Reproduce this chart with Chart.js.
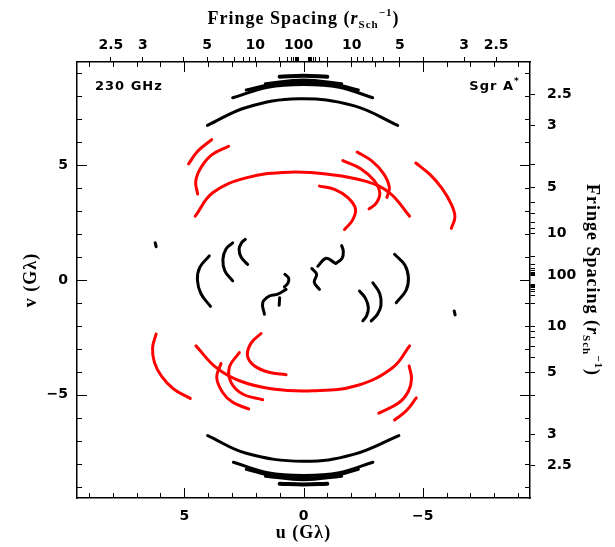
<!DOCTYPE html>
<html>
<head>
<meta charset="utf-8">
<title>Sgr A* 230 GHz uv coverage</title>
<script src="https://cdn.jsdelivr.net/npm/chart.js@4.4.1/dist/chart.umd.min.js"></script>
<style>
  html, body { margin: 0; padding: 0; background: #fff; }
  #wrap { width: 615px; height: 547px; position: relative; }
</style>
</head>
<body>
<div id="wrap"><canvas id="uv"></canvas></div>
<script>
// uv tracks, [u, v] in G-lambda
const blackTop1 = [[4.03, 6.74], [2.4, 7.52], [0.2, 7.9], [-2.1, 7.6], [-3.95, 6.74]];
const blackTop2 = [[2.97, 7.94], [1.5, 8.4], [0, 8.52], [-1.5, 8.4], [-2.9, 7.94]];
const blackTop3 = [[2.4, 8.28], [1.2, 8.55], [0, 8.62], [-1.2, 8.55], [-2.3, 8.28]];
const blackTop4 = [[1.6, 8.55], [0, 8.72], [-1.6, 8.55]];
const blackTop5 = [[1.0, 8.86], [0, 8.9], [-1.0, 8.86]];

const blackBot1 = [[4.02, -6.78], [2.4, -7.55], [0.03, -7.9], [-2.1, -7.6], [-4.0, -6.78]];
const blackBot2 = [[2.94, -7.94], [1.5, -8.4], [0, -8.52], [-1.5, -8.4], [-2.91, -7.94]];
const blackBot3 = [[2.4, -8.25], [1.2, -8.55], [0, -8.62], [-1.2, -8.55], [-2.3, -8.25]];
const blackBot4 = [[1.6, -8.55], [0, -8.7], [-1.6, -8.55]];
const blackBot5 = [[1.0, -8.88], [0, -8.91], [-1.0, -8.88]];

const blackMid1 = [[3.9, -1.15], [4.3, -0.6], [4.45, 0.0], [4.35, 0.55], [3.95, 1.05]];
const blackMid2 = [[2.97, -0.04], [3.3, 0.4], [3.38, 0.9], [3.25, 1.35], [2.97, 1.62]];
const blackMid3 = [[2.34, 0.68], [2.62, 1.0], [2.7, 1.35], [2.6, 1.62], [2.44, 1.77]];
const blackMid4 = [[-3.82, 1.12], [-4.25, 0.65], [-4.4, 0.1], [-4.3, -0.45], [-3.89, -0.99]];
const blackMid5 = [[-2.91, -0.12], [-3.2, -0.6], [-3.25, -1.1], [-3.1, -1.5], [-2.84, -1.78]];
const blackMid6 = [[-2.35, -0.48], [-2.6, -0.8], [-2.72, -1.2], [-2.65, -1.55], [-2.49, -1.78]];

const blackSq1 = [[1.64, -1.49], [1.71, -0.99], [1.43, -0.7], [1.08, -0.62], [0.73, -0.41]];
const blackSq2 = [[0.78, 0.25], [0.62, 0.08], [0.66, -0.15], [0.8, -0.3]];
const blackSq3 = [[1.0, -0.77], [1.02, -1.1]];
const blackSq4 = [[-0.67, -0.41], [-0.45, -0.1], [-0.55, 0.25], [-0.35, 0.5]];
const blackSq5 = [[-0.6, 0.6], [-0.95, 0.95], [-1.3, 0.75]];
const blackSq6 = [[-1.35, 0.72], [-1.62, 0.95], [-1.67, 1.25], [-1.6, 1.5]];

const blackDot1 = [[6.22, 1.62], [6.18, 1.45]];
const blackDot2 = [[-6.32, -1.35], [-6.36, -1.52]];

const redUp1 = [[4.82, 5.06], [4.44, 5.61], [3.85, 6.12]];
const redUp2 = [[4.44, 3.75], [4.52, 4.3], [4.3, 4.9], [3.85, 5.45], [3.14, 5.83]];
const redUp3 = [[4.54, 2.78], [3.81, 3.8], [2.41, 4.45], [0.59, 4.7], [-1.09, 4.6], [-2.63, 4.3], [-3.61, 3.8], [-4.45, 2.78]];
const redUp4 = [[-0.67, 4.09], [-1.3, 3.95], [-1.85, 3.6], [-2.18, 3.1], [-2.05, 2.6], [-1.72, 2.2]];
const redUp5 = [[-1.65, 5.2], [-2.4, 4.85], [-2.95, 4.35], [-3.2, 3.8], [-3.05, 3.35], [-2.75, 3.1]];
const redUp6 = [[-2.25, 5.58], [-2.85, 5.2], [-3.35, 4.65], [-3.6, 4.05], [-3.5, 3.6]];
const redUp7 = [[-4.71, 5.1], [-5.3, 4.6], [-5.8, 4.0], [-6.2, 3.3], [-6.35, 2.75], [-6.2, 2.25]];

const redLo1 = [[6.18, -2.35], [6.33, -2.95], [6.25, -3.6], [5.95, -4.2], [5.45, -4.75], [4.75, -5.16]];
const redLo2 = [[4.51, -2.87], [3.67, -3.81], [2.69, -4.39], [1.29, -4.75], [-0.39, -4.83], [-2.21, -4.61], [-3.75, -3.81], [-4.45, -2.87]];
const redLo3 = [[3.46, -3.64], [3.64, -4.25], [3.39, -4.9], [2.97, -5.33], [2.3, -5.62]];
const redLo4 = [[2.69, -3.16], [3.11, -3.81], [3.04, -4.46], [2.55, -4.97], [1.71, -5.22]];
const redLo5 = [[1.78, -2.33], [2.2, -2.75], [2.35, -3.3], [2.05, -3.75], [1.45, -4.02], [0.73, -4.13]];
const redLo6 = [[-4.43, -3.75], [-4.53, -4.3], [-4.4, -4.85], [-4.0, -5.35], [-3.16, -5.8]];
const redLo7 = [[-4.73, -5.14], [-4.31, -5.7], [-3.82, -6.1]];

const blackArcs = [
  blackTop1, blackTop2, blackTop3, blackTop4, blackBot1, blackBot2, blackBot3, blackBot4,
  blackMid1, blackMid2, blackMid3, blackMid4, blackMid5, blackMid6,
  blackSq1, blackSq2, blackSq3, blackSq4, blackSq5, blackSq6, blackDot1, blackDot2,
];
const blackBars = [blackTop5, blackBot5];
const redArcs = [redUp1, redUp2, redUp3, redUp4, redUp5, redUp6, redUp7,
  redLo1, redLo2, redLo3, redLo4, redLo5, redLo6, redLo7];

// axis ticks
const uTicks = [5, 0, -5];
const vTicks = [5, 0, -5];
const fringeTicks = [2.5, 3, 4, 5, 6, 7, 8, 9, 10, 20, 30, 40, 50, 60, 70, 80, 90, 100];
const fringeLabels = [2.5, 3, 5, 10, 100];
const FRINGE_K = 20.2; // fringe spacing in r_Sch = FRINGE_K / baseline (G-lambda)

const tickFont = { family: "'DejaVu Sans', sans-serif", size: 14, weight: "bold" };
const titleFont = "bold 18px 'Liberation Serif', serif";

function fmtSigned(v) {
  return v < 0 ? "\u2212" + Math.abs(v) : String(v);
}

function fringeTickObjs() {
  const out = [];
  fringeTicks.forEach((f) => {
    [1, -1].forEach((sign) => {
      const show = fringeLabels.includes(f) && !(f === 100 && sign < 0);
      out.push({ value: (sign * FRINGE_K) / f, text: show ? String(f) : "" });
    });
  });
  return out;
}

function arcSet(pts, color, width) {
  return {
    data: pts.map(([x, y]) => ({ x, y })),
    showLine: true,
    borderColor: color,
    borderWidth: width,
    borderCapStyle: "round",
    pointRadius: 0,
    tension: 0.4,
    fill: false,
  };
}

function richText(ctx, parts, cx, cy, angle) {
  ctx.save();
  ctx.translate(cx, cy);
  ctx.rotate(angle);
  ctx.letterSpacing = "1px";
  let w = 0;
  parts.forEach((p) => { ctx.font = p.font; w += ctx.measureText(p.text).width; });
  let x = -w / 2;
  ctx.textAlign = "left";
  ctx.textBaseline = "alphabetic";
  parts.forEach((p) => {
    ctx.font = p.font;
    ctx.fillText(p.text, x, p.dy || 0);
    x += ctx.measureText(p.text).width;
  });
  ctx.restore();
}

const fringeTitle = [
  { text: "Fringe Spacing (", font: titleFont },
  { text: "r", font: "bold italic 18px 'Liberation Serif', serif" },
  { text: "Sch", font: "bold 11px 'Liberation Serif', serif", dy: 4 },
  { text: "\u22121", font: "bold 11px 'Liberation Serif', serif", dy: -8 },
  { text: ")", font: titleFont },
];

const framePlugin = {
  id: "frame",
  afterDraw(chart) {
    const { ctx, chartArea: a, scales } = chart;
    const xs = scales.x;
    const ys = scales.y;
    ctx.save();
    ctx.strokeStyle = "#000";
    ctx.lineWidth = 1;
    ctx.beginPath();
    for (let k = -9; k <= 9; k++) {
      const len = k % 5 === 0 ? 10 : 5;
      const px = Math.round(xs.getPixelForValue(k)) + 0.5;
      ctx.moveTo(px, a.bottom);
      ctx.lineTo(px, a.bottom - len);
      ctx.moveTo(px, a.top);
      ctx.lineTo(px, a.top + len);
      const py = Math.round(ys.getPixelForValue(k)) + 0.5;
      ctx.moveTo(a.left, py);
      ctx.lineTo(a.left + len, py);
      ctx.moveTo(a.right, py);
      ctx.lineTo(a.right - len, py);
    }
    ctx.stroke();

    ctx.fillStyle = "#000";
    const cx = (a.left + a.right) / 2;
    const cy = (a.top + a.bottom) / 2;
    richText(ctx, fringeTitle, cx, 24, 0);
    richText(ctx, fringeTitle, 587, cy, Math.PI / 2);
    const uvTitle = (name) => [{ text: name + " (G\u03bb)", font: titleFont }];
    richText(ctx, uvTitle("u"), cx, 538, 0);
    richText(ctx, uvTitle("v"), 36, cy, -Math.PI / 2);

    ctx.font = "bold 13px 'DejaVu Sans', sans-serif";
    ctx.letterSpacing = "1px";
    ctx.textBaseline = "alphabetic";
    ctx.textAlign = "left";
    ctx.fillText("230 GHz", a.left + 18, a.top + 28);
    ctx.textAlign = "right";
    ctx.fillText("Sgr A", a.right - 16, a.top + 28);
    ctx.font = "bold 9px 'DejaVu Sans', sans-serif";
    ctx.textAlign = "left";
    ctx.fillText("*", a.right - 16, a.top + 22);
    ctx.restore();
  },
};

const borderOpts = { display: true, color: "#000", width: 1.5 };

new Chart(document.getElementById("uv"), {
  type: "scatter",
  data: {
    datasets: [
      ...redArcs.map((pts) => arcSet(pts, "#ff0000", 3)),
      ...blackArcs.map((pts) => arcSet(pts, "#000000", 3)),
      ...blackBars.map((pts) => arcSet(pts, "#000000", 4)),
    ],
  },
  options: {
    responsive: true,
    maintainAspectRatio: false,
    animation: false,
    events: [],
    layout: { padding: 0 },
    plugins: { legend: { display: false }, tooltip: { enabled: false } },
    scales: {
      x: {
        type: "linear",
        position: "bottom",
        reverse: true,
        min: -9.5,
        max: 9.5,
        afterBuildTicks: (s) => { s.ticks = uTicks.map((v) => ({ value: v })); },
        afterFit: (s) => { s.height = 49; },
        grid: { display: false, drawTicks: false },
        border: borderOpts,
        ticks: { color: "#000", font: tickFont, padding: 10, autoSkip: false, maxRotation: 0, callback: (v) => fmtSigned(v) },
      },
      x2: {
        type: "linear",
        axis: "x",
        position: "top",
        reverse: true,
        min: -9.5,
        max: 9.5,
        afterBuildTicks: (s) => { s.ticks = fringeTickObjs(); },
        afterFit: (s) => { s.height = 62; },
        grid: { display: true, drawOnChartArea: false, drawTicks: true, tickLength: 5, color: "#000", lineWidth: 1 },
        border: borderOpts,
        ticks: { color: "#000", font: tickFont, padding: 3, autoSkip: false, maxRotation: 0, callback: (v, i, t) => t[i].text },
      },
      y: {
        type: "linear",
        position: "left",
        min: -9.5,
        max: 9.5,
        afterBuildTicks: (s) => { s.ticks = vTicks.map((v) => ({ value: v })); },
        afterFit: (s) => { s.width = 77; },
        grid: { display: false, drawTicks: false },
        border: borderOpts,
        ticks: { color: "#000", font: tickFont, padding: 9, autoSkip: false, callback: (v) => fmtSigned(v) },
      },
      y2: {
        type: "linear",
        axis: "y",
        position: "right",
        min: -9.5,
        max: 9.5,
        afterBuildTicks: (s) => { s.ticks = fringeTickObjs(); },
        afterFit: (s) => { s.width = 85; },
        grid: { display: true, drawOnChartArea: false, drawTicks: true, tickLength: 5, color: "#000", lineWidth: 1 },
        border: borderOpts,
        ticks: { color: "#000", font: tickFont, padding: 12, autoSkip: false, callback: (v, i, t) => t[i].text },
      },
    },
  },
  plugins: [framePlugin],
});
</script>
</body>
</html>
